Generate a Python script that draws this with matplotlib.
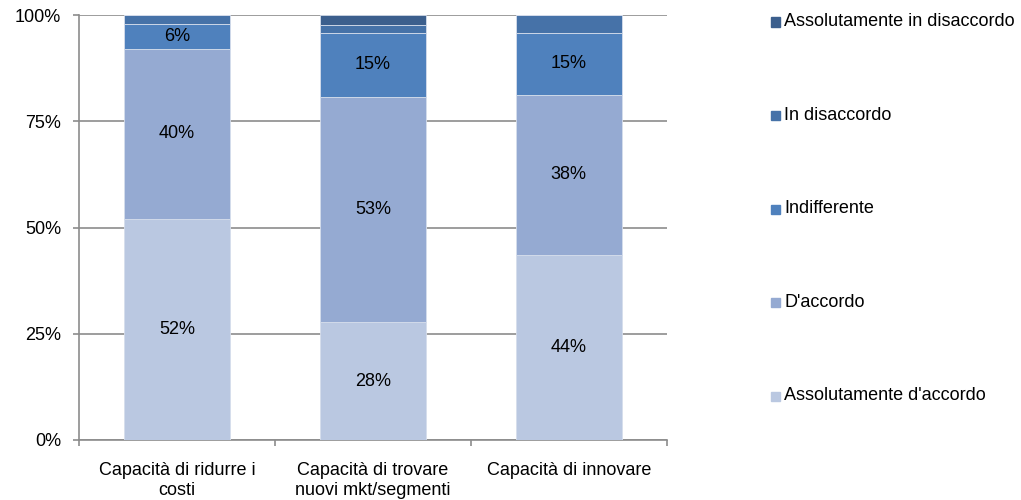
import matplotlib
matplotlib.use("Agg")
import matplotlib.pyplot as plt
from matplotlib.patches import Rectangle
import numpy as np

plt.rcParams['font.family'] = ['Liberation Sans', 'DejaVu Sans']

categories = ["Capacità di ridurre i\ncosti",
              "Capacità di trovare\nnuovi mkt/segmenti",
              "Capacità di innovare"]

series = ["Assolutamente d'accordo", "D'accordo", "Indifferente",
          "In disaccordo", "Assolutamente in disaccordo"]

ass_accordo = [52.1, 27.7, 43.6]
accordo = [39.8, 53.1, 37.6]
indifferente = [5.9, 14.9, 14.6]
disaccordo = [2.2, 1.9, 4.2]
ass_disaccordo = [0.0, 2.4, 0.0]

values = [ass_accordo, accordo, indifferente, disaccordo, ass_disaccordo]
colors = ["#BAC8E1", "#95AAD2", "#4F81BD", "#4672A8", "#3C5F8D"]

FS = 13

fig = plt.figure(figsize=(10.21, 5.0), dpi=100)
ax = fig.add_axes([79 / 1021, 60 / 500, (666.7 - 79) / 1021, 425 / 500])

x = np.arange(len(categories))
bottom = np.zeros(len(categories))
for name, vals, col in zip(series, values, colors):
    vals = np.array(vals)
    ax.bar(x, vals, 0.54, bottom=bottom, color=col, edgecolor="#D6DEEC",
           linewidth=0.6, zorder=3)
    for xi, b, v in zip(x, bottom, vals):
        if v >= 5:
            ax.text(xi, b + v / 2, f"{v:.0f}%", ha="center", va="center",
                    fontsize=FS, color="black", zorder=4)
    bottom += vals

ax.set_xlim(-0.5, len(categories) - 0.5)
ax.set_ylim(0, 100)
ax.set_yticks([0, 25, 50, 75, 100])
ax.set_yticklabels(["0%", "25%", "50%", "75%", "100%"], fontsize=FS)
ax.yaxis.grid(True, color="#8C8C8C", linewidth=1.2, zorder=0)
ax.set_axisbelow(True)

# category boundaries carry the x ticks
ax.set_xticks(np.arange(len(categories) + 1) - 0.5)
ax.set_xticklabels([])
ax.set_xticks(x, minor=True)
ax.set_xticklabels(categories, minor=True, fontsize=FS, linespacing=1.2)
ax.tick_params(axis="x", which="minor", length=0, pad=16)
ax.tick_params(axis="x", which="major", length=4.5, color="#8C8C8C", width=1.2)
ax.tick_params(axis="y", length=4.5, color="#8C8C8C", width=1.2, pad=8.5)

for side in ["top", "right"]:
    ax.spines[side].set_visible(False)
for side in ["left", "bottom"]:
    ax.spines[side].set_color("#8C8C8C")
    ax.spines[side].set_linewidth(1.2)

# legend, darkest series on top
for i, (name, col) in enumerate(zip(series[::-1], colors[::-1])):
    ypix = 22 + i * 93.5
    fig.add_artist(Rectangle((771 / 1021, 1 - (ypix + 4.5) / 500),
                             9 / 1021, 9 / 500, color=col,
                             transform=fig.transFigure))
    fig.text(784 / 1021, 1 - ypix / 500, name, fontsize=FS,
             ha="left", va="center")

fig.savefig("out.png", dpi=100)
